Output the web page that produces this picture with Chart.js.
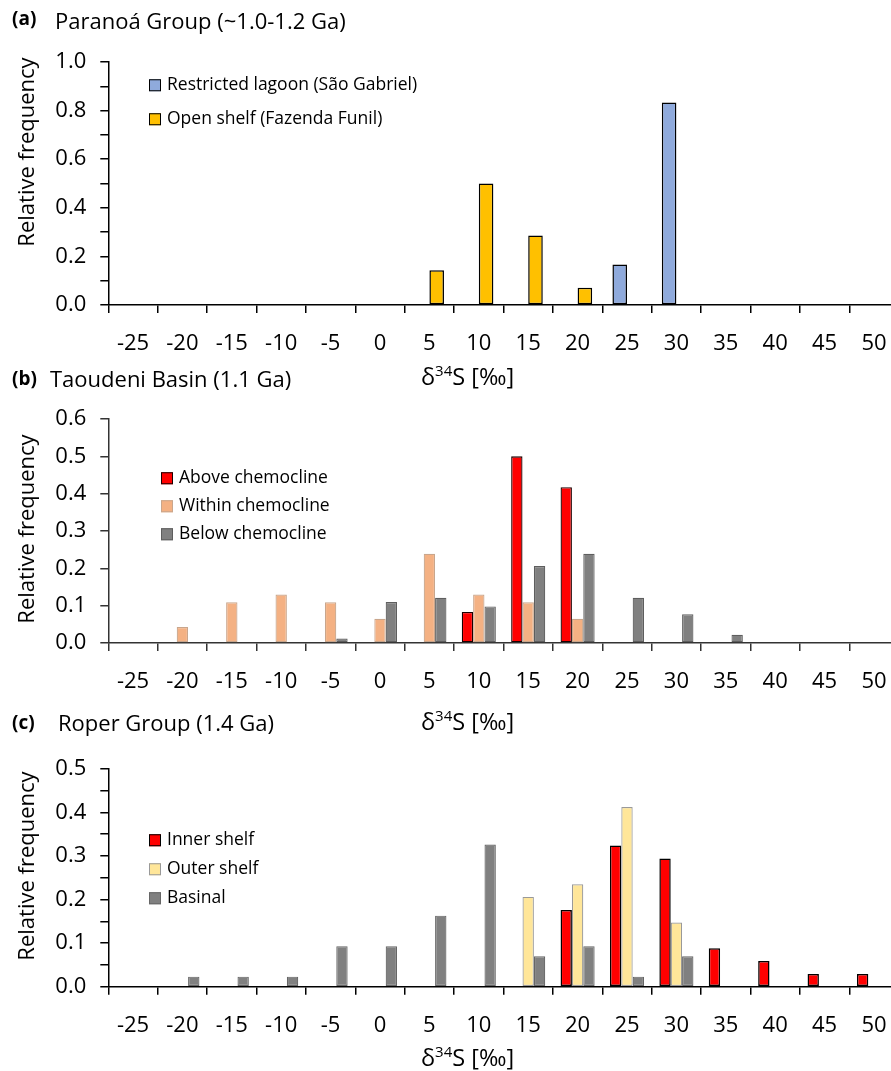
<!DOCTYPE html>
<html>
<head>
<meta charset="utf-8">
<script src="https://cdn.jsdelivr.net/npm/chart.js@4.4.1/dist/chart.umd.min.js"></script>
<style>
  body { margin: 0; background: #fff; }
  #page { position: relative; width: 891px; height: 1071px; overflow: hidden; font-family: "Open Sans", sans-serif; color: #000; }
  canvas { position: absolute; left: 0; }
  .txt { position: absolute; white-space: nowrap; line-height: 1; transform: translateY(-50%); z-index: 2; }
  .tag { font-weight: bold; font-size: 19px; }
  .head { font-size: 22px; }
  .ytitle { position: absolute; white-space: nowrap; line-height: 1; font-size: 22px; transform: translate(-50%, -50%) rotate(-90deg); z-index: 2; }
  .xtitle { font-size: 23.5px; }
  .xtitle sup { font-size: 15px; vertical-align: 9px; line-height: 0; }
  .legend { position: absolute; z-index: 2; font-size: 17.5px; }
  .legend div { position: absolute; left: 0; white-space: nowrap; line-height: 1; transform: translateY(-50%); }
  .legend span.box { display: inline-block; width: 10px; height: 10px; margin-right: 6px; vertical-align: -1px; }
</style>
</head>
<body>
<div id="page">
  <canvas id="chartA" width="905" height="360" style="top:0px;width:905px;height:360px"></canvas>
  <canvas id="chartB" width="905" height="340" style="top:360px;width:905px;height:340px"></canvas>
  <canvas id="chartC" width="905" height="371" style="top:700px;width:905px;height:371px"></canvas>

  <div class="txt tag" style="left:12px;top:18px">(a)</div>
  <div class="txt head" style="left:55px;top:20px">Paranoá Group (~1.0-1.2 Ga)</div>
  <div class="ytitle" style="left:25px;top:152px">Relative frequency</div>
  <div class="txt xtitle" style="left:421px;top:377px">δ<sup>34</sup>S [‰]</div>

  <div class="txt tag" style="left:12px;top:378px">(b)</div>
  <div class="txt head" style="left:50px;top:378px">Taoudeni Basin (1.1 Ga)</div>
  <div class="ytitle" style="left:25px;top:529px">Relative frequency</div>
  <div class="txt xtitle" style="left:421px;top:722px">δ<sup>34</sup>S [‰]</div>

  <div class="txt tag" style="left:12px;top:722px">(c)</div>
  <div class="txt head" style="left:58px;top:722px">Roper Group (1.4 Ga)</div>
  <div class="ytitle" style="left:25px;top:866px">Relative frequency</div>
  <div class="txt xtitle" style="left:421px;top:1058px">δ<sup>34</sup>S [‰]</div>
</div>

<script>
// bins of δ34S (‰)
const bins = ['-25', '-20', '-15', '-10', '-5', '0', '5', '10', '15', '20', '25', '30', '35', '40', '45', '50'];

// (a) Paranoá Group
const lagoon    = [null, null, null, null, null, null, null, null, null, null, 0.167, 0.833, null, null, null, null];
const openShelf = [null, null, null, null, null, null, 0.143, 0.500, 0.286, 0.071, null, null, null, null, null, null];

// (b) Taoudeni Basin
const aboveChemo  = [null, null, null, null, null, null, null, 0.083, 0.500, 0.417, null, null, null, null, null, null];
const withinChemo = [null, 0.043, 0.109, 0.130, 0.109, 0.065, 0.239, 0.130, 0.109, 0.065, null, null, null, null, null, null];
const belowChemo  = [null, null, null, null, 0.012, 0.110, 0.121, 0.098, 0.206, 0.239, 0.121, 0.077, 0.022, null, null, null];

// (c) Roper Group
const innerShelf = [null, null, null, null, null, null, null, null, null, 0.176, 0.324, 0.294, 0.088, 0.059, 0.029, 0.029];
const outerShelf = [null, null, null, null, null, null, null, null, 0.206, 0.235, 0.412, 0.147, null, null, null, null];
const basinal    = [null, 0.023, 0.023, 0.023, 0.093, 0.093, 0.163, 0.326, 0.070, 0.093, 0.023, 0.070, null, null, null, null];

const AXIS_LEFT = 108.3;
const AREA_RIGHT = 898.7;
const FONT = { family: 'Open Sans', size: 22 };

function drawPanel(id, sets, yMax, yStep, labelEvery, catPct, areaTop, areaBottom, axisColor, legendPos) {
  const canvas = document.getElementById(id);
  const H = canvas.height;
  const chart = new Chart(canvas, {
    type: 'bar',
    data: {
      labels: bins,
      datasets: sets.map(s => ({
        label: s.label,
        data: s.data,
        backgroundColor: s.fill,
        borderColor: s.line,
        borderWidth: s.lw,
        borderSkipped: false,
        categoryPercentage: catPct,
        barPercentage: 1
      }))
    },
    options: {
      responsive: false,
      animation: false,
      layout: { padding: { top: areaTop, left: 0, bottom: 0, right: canvas.width - AREA_RIGHT } },
      plugins: { legend: { display: false }, tooltip: { enabled: false } },
      scales: {
        x: {
          grid: { offset: true, drawOnChartArea: false, tickLength: 8, color: axisColor, lineWidth: 1.5 },
          border: { display: true, color: axisColor, width: 1.5 },
          ticks: { color: '#000', font: FONT, padding: 18, maxRotation: 0, autoSkip: false },
          afterFit: s => { s.height = H - areaBottom; }
        },
        y: {
          min: 0,
          max: yMax,
          grid: { drawOnChartArea: false, tickLength: 8, color: axisColor, lineWidth: 1.5 },
          border: { display: true, color: axisColor, width: 1.5 },
          ticks: {
            stepSize: yStep,
            autoSkip: false,
            padding: 14,
            color: '#000',
            font: FONT,
            callback: (v, i) => (i % labelEvery === 0 ? v.toFixed(1) : '')
          },
          afterFit: s => { s.width = AXIS_LEFT; }
        }
      }
    }
  });

  // legend inside the plot, built from the chart's datasets
  const box = document.createElement('div');
  box.className = 'legend';
  box.style.left = legendPos.x + 'px';
  box.style.top = legendPos.y + 'px';
  chart.data.datasets.forEach((ds, i) => {
    const row = document.createElement('div');
    row.style.top = (i * legendPos.gap) + 'px';
    row.innerHTML = '<span class="box" style="background:' + ds.backgroundColor +
      ';border:1px solid ' + ds.borderColor + '"></span>' + ds.label;
    box.appendChild(row);
  });
  document.getElementById('page').appendChild(box);
  return chart;
}

drawPanel('chartA', [
  { label: 'Restricted lagoon (São Gabriel)', data: lagoon, fill: '#8FAADC', line: '#000', lw: 1.5 },
  { label: 'Open shelf (Fazenda Funil)', data: openShelf, fill: '#FFC000', line: '#000', lw: 1.5 }
], 1.0, 0.1, 2, 0.59, 62, 305, '#000', { x: 149, y: 84, gap: 34 });

drawPanel('chartB', [
  { label: 'Above chemocline', data: aboveChemo, fill: '#FF0000', line: '#1a0000', lw: 1.3 },
  { label: 'Within chemocline', data: withinChemo, fill: '#F4B183', line: '#c9a68c', lw: 1.2 },
  { label: 'Below chemocline', data: belowChemo, fill: '#808080', line: '#5e5e5e', lw: 1.2 }
], 0.6, 0.1, 1, 0.69, 59, 283, '#333', { x: 161, y: 477, gap: 28 });

drawPanel('chartC', [
  { label: 'Inner shelf', data: innerShelf, fill: '#FF0000', line: '#000', lw: 1.5 },
  { label: 'Outer shelf', data: outerShelf, fill: '#FFE699', line: '#999', lw: 1.2 },
  { label: 'Basinal', data: basinal, fill: '#808080', line: '#666', lw: 1.2 }
], 0.5, 0.05, 2, 0.69, 68.7, 286.7, '#000', { x: 149, y: 839, gap: 29 });
</script>
</body>
</html>
